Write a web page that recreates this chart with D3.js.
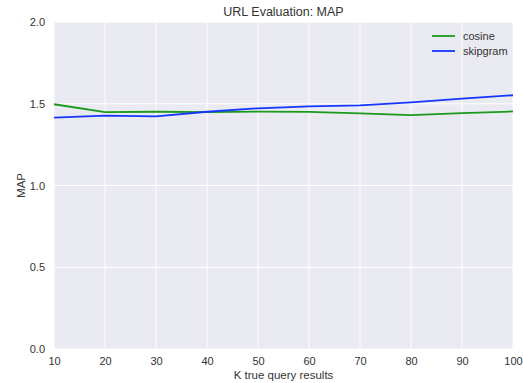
<!DOCTYPE html>
<html>
<head>
<meta charset="utf-8">
<script src="https://cdn.jsdelivr.net/npm/d3@7"></script>
<style>
  body { margin: 0; background: #fff; }
  svg text { font-family: "Liberation Sans", Arial, sans-serif; fill: #333; }
</style>
</head>
<body>
<div class="chart"></div>
<script>
let plotBg = "#EAEAF2";
let gridColor = "#FFFFFF";
let cosineColor = "#1a9a1a";
let skipColor = "#1536ff";

// data
const kValues = [10, 20, 30, 40, 50, 60, 70, 80, 90, 100];
const cosine = [1.497, 1.449, 1.451, 1.449, 1.452, 1.450, 1.441, 1.431, 1.443, 1.453];
const skipgram = [1.415, 1.427, 1.423, 1.451, 1.472, 1.484, 1.490, 1.508, 1.531, 1.552];
const yTicks = [0.0, 0.5, 1.0, 1.5, 2.0];
const xTicks = [10, 20, 30, 40, 50, 60, 70, 80, 90, 100];

const width = 523;
const height = 383;
const margin = { top: 22, right: 10, bottom: 34, left: 54 };
const boundedWidth = width - margin.left - margin.right;
const boundedHeight = height - margin.top - margin.bottom;

const svg = d3.select(".chart")
  .append("svg")
  .attr("width", width)
  .attr("height", height);

const g = svg.append("g")
  .attr("transform", `translate(${margin.left}, ${margin.top})`);

//scales
const xScale = d3.scaleLinear().domain([10, 100]).range([0, boundedWidth]);
const yScale = d3.scaleLinear().domain([0, 2]).range([boundedHeight, 0]);

g.append("rect")
  .attr("width", boundedWidth)
  .attr("height", boundedHeight)
  .attr("fill", plotBg);

//grid
g.selectAll(".xgrid")
  .data(xTicks)
  .enter()
  .append("line")
  .attr("x1", d => xScale(d))
  .attr("x2", d => xScale(d))
  .attr("y1", 0)
  .attr("y2", boundedHeight)
  .attr("stroke", gridColor)
  .attr("stroke-width", 1);

g.selectAll(".ygrid")
  .data(yTicks)
  .enter()
  .append("line")
  .attr("x1", 0)
  .attr("x2", boundedWidth)
  .attr("y1", d => yScale(d))
  .attr("y2", d => yScale(d))
  .attr("stroke", gridColor)
  .attr("stroke-width", 1);

//axes
const xAxis = g.append("g")
  .attr("transform", `translate(0, ${boundedHeight})`)
  .call(d3.axisBottom(xScale).tickValues(xTicks).tickSize(0).tickPadding(8));

const yAxis = g.append("g")
  .call(d3.axisLeft(yScale).tickValues(yTicks).tickFormat(d3.format(".1f")).tickSize(0).tickPadding(9));

[xAxis, yAxis].forEach(a => {
  a.select(".domain").remove();
  a.selectAll(".tick text")
    .style("font-size", "11px")
    .style("font-family", "'Liberation Sans', Arial, sans-serif")
    .attr("fill", "#444");
});

//lines
const line = d3.line()
  .x((d, i) => xScale(kValues[i]))
  .y(d => yScale(d));

const series = [
  { name: "cosine", values: cosine, color: cosineColor },
  { name: "skipgram", values: skipgram, color: skipColor }
];

g.selectAll(".series")
  .data(series)
  .enter()
  .append("path")
  .attr("d", d => line(d.values))
  .attr("fill", "none")
  .attr("stroke", d => d.color)
  .attr("stroke-width", 1.8);

//legend
const legend = g.selectAll(".legend")
  .data(series)
  .enter()
  .append("g")
  .attr("transform", (d, i) => `translate(${boundedWidth - 81}, ${14 + i * 15})`);

legend.append("line")
  .attr("x1", 0)
  .attr("x2", 23)
  .attr("stroke", d => d.color)
  .attr("stroke-width", 1.8);

legend.append("text")
  .attr("x", 31)
  .attr("y", 4)
  .text(d => d.name)
  .style("font-size", "11px");

//titles
svg.append("text")
  .attr("x", margin.left + boundedWidth / 2)
  .attr("y", 16)
  .attr("text-anchor", "middle")
  .text("URL Evaluation: MAP")
  .style("font-size", "12.5px");

svg.append("text")
  .attr("x", margin.left + boundedWidth / 2)
  .attr("y", 379)
  .attr("text-anchor", "middle")
  .text("K true query results")
  .style("font-size", "11.5px");

svg.append("text")
  .attr("transform", `translate(25, ${margin.top + boundedHeight / 2}) rotate(-90)`)
  .attr("text-anchor", "middle")
  .text("MAP")
  .style("font-size", "11.5px");
</script>
</body>
</html>
